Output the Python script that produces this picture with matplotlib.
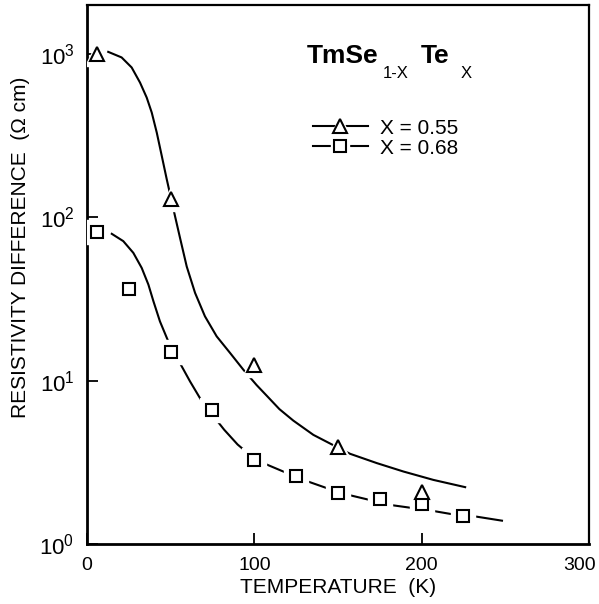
import numpy as np
import matplotlib
matplotlib.use('Agg')
import matplotlib.pyplot as plt
from matplotlib.lines import Line2D
from matplotlib.transforms import ScaledTranslation

plt.rcParams['font.family'] = ['Liberation Sans', 'DejaVu Sans']
plt.rcParams['mathtext.fontset'] = 'custom'
plt.rcParams['mathtext.rm'] = 'Liberation Sans'
plt.rcParams['mathtext.it'] = 'Liberation Sans:italic'
plt.rcParams['mathtext.bf'] = 'Liberation Sans:bold'

# measured points
temp_055 = [6, 50, 100, 150, 200]
rho_055 = [1000, 129, 12.5, 3.94, 2.08]
temp_068 = [6, 25, 50, 75, 100, 125, 150, 175, 200, 225]
rho_068 = [81, 36.7, 15.1, 6.6, 3.28, 2.61, 2.06, 1.89, 1.76, 1.49]

# fitted curves
fit_t_055 = [12.7, 20.7, 26.7, 31.7, 35.7, 38.7, 41.7, 44.7, 47.6, 52.6, 55.6,
             59.6, 64.6, 70.5, 77.5, 85.5, 93.4, 101.4, 107.4, 115, 123.3, 135.3, 144.2,
             157.2, 173.2, 189.1, 207, 226]
fit_r_055 = [1033, 955, 829, 670, 542, 439, 331, 238, 172.6, 102, 75,
             50.1, 34.5, 24.8, 18.7, 14.8, 11.7, 9.4, 8.1, 6.7, 5.7, 4.66, 4.18,
             3.57, 3.13, 2.78, 2.47, 2.23]
fit_t_068 = [14.8, 21.7, 27.7, 32.7, 36.7, 39.7, 43.6, 48.6, 55.6, 61.6, 68.6, 75,
             82, 90, 100, 108, 117.3, 132.3, 143.3, 156.2, 167.2, 182.1, 191.1, 206,
             217, 233, 248]
fit_r_068 = [79.4, 71.6, 60.7, 49.1, 38.8, 30.7, 23.1, 17.4, 12.8, 9.9, 7.5, 6.17,
             5.01, 4.07, 3.33, 3.05, 2.78, 2.41, 2.2, 2.0, 1.88, 1.73, 1.68, 1.60,
             1.53, 1.47, 1.39]

labels = ['X = 0.55', 'X = 0.68']

fig = plt.figure(figsize=(5.99, 6.04), dpi=100)
ax = fig.add_axes([0.1452, 0.0993, 0.8381, 0.8924])

ax.plot(fit_t_055, fit_r_055, color='black', lw=1.5, zorder=2)
ax.plot(fit_t_068, fit_r_068, color='black', lw=1.5, zorder=2)

# white halo so the curves break around the symbols
ax.plot(temp_055, rho_055, '^', ms=17, mfc='white', mec='white', zorder=3)
ax.plot(temp_068, rho_068, 's', ms=17, mfc='white', mec='white', zorder=3)
ax.plot(temp_068, rho_068, 's', ms=8.5, mfc='white', mec='black', mew=1.5, zorder=4)
ax.plot(temp_055, rho_055, '^', ms=10, mfc='white', mec='black', mew=1.5, zorder=5)

ax.set_yscale('log')
ax.set_xlim(0, 300)
ax.set_ylim(1, 2000)
ax.set_xticks([0, 100, 200, 300])
ax.set_yticks([1, 10, 100, 1000])
ax.yaxis.set_minor_locator(matplotlib.ticker.NullLocator())
ax.tick_params(direction='in', length=8, width=1.3)
ax.tick_params(axis='y', pad=9, labelsize=16)
ax.tick_params(axis='x', pad=9, labelsize=14)
for s in ax.spines.values():
    s.set_linewidth(1.6)
ax.spines['left'].set_linewidth(2.0)
ax.spines['bottom'].set_linewidth(2.0)

# last x label sits a bit inside the edge
fig.canvas.draw()
for lab in ax.get_xticklabels():
    if lab.get_text() == '300':
        lab.set_transform(lab.get_transform() + ScaledTranslation(-0.09, 0, fig.dpi_scale_trans))

ax.set_xlabel('TEMPERATURE  (K)', fontsize=15, labelpad=3)
ax.set_ylabel('RESISTIVITY DIFFERENCE  (\u03a9 cm)', fontsize=15)
ax.yaxis.set_label_coords(-0.113, 0.551)

# compound name
W, H = 599.0, 604.0
fig.text(307 / W, 1 - 63 / H, 'TmSe', fontsize=19, fontweight='bold', va='baseline')
fig.text(383 / W, 1 - 78 / H, '1-X', fontsize=12, va='baseline')
fig.text(421 / W, 1 - 63 / H, 'Te', fontsize=19, fontweight='bold', va='baseline')
fig.text(461 / W, 1 - 78 / H, 'X', fontsize=12, va='baseline')

def legend_handle(marker, ms):
    line = Line2D([], [], color='black', lw=1.5)
    halo = Line2D([], [], ls='none', marker=marker, ms=ms + 5, mfc='white', mec='white')
    mk = Line2D([], [], ls='none', marker=marker, ms=ms, mfc='white', mec='black', mew=1.5)
    return (line, halo, mk)

handles = [legend_handle('^', 10), legend_handle('s', 8.5)]
ax.legend(handles, labels, loc='upper left', bbox_to_anchor=(0.45, 0.789),
          frameon=False, fontsize=15, handlelength=2.65, handletextpad=0.58,
          labelspacing=0.05, borderpad=0, borderaxespad=0)

fig.savefig('out.png', dpi=100)
